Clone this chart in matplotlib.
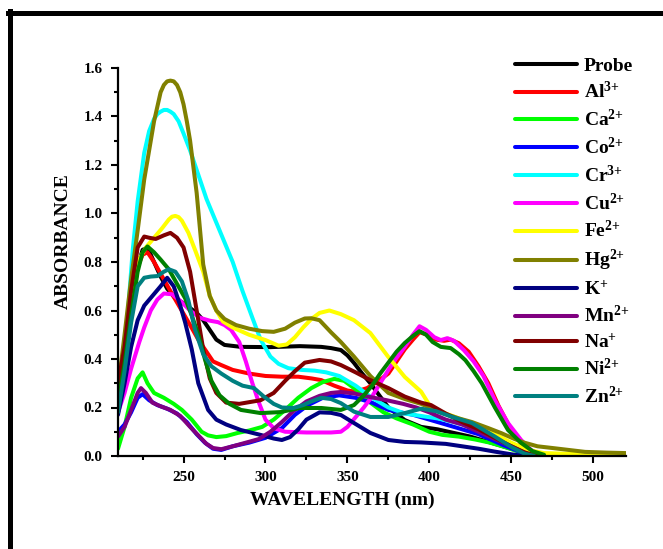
import matplotlib
matplotlib.use("Agg")
import matplotlib.pyplot as plt
from matplotlib.lines import Line2D
from matplotlib.ticker import MultipleLocator

plt.rcParams["font.family"] = "Liberation Serif"
plt.rcParams["font.weight"] = "bold"
plt.rcParams["mathtext.fontset"] = "custom"
plt.rcParams["mathtext.rm"] = "Liberation Serif:bold"
plt.rcParams["mathtext.bf"] = "Liberation Serif:bold"
plt.rcParams["mathtext.it"] = "Liberation Serif:bold"

# absorbance spectra, one (wavelength, absorbance) pair of lists per sample
probe_wl = [210, 214, 218, 222, 225, 228, 232, 236, 240, 245, 250, 258, 262, 266, 270, 275, 285, 303, 321, 334,
            340, 346, 350, 354, 359, 364, 370, 375, 385, 395, 405, 415, 425, 435, 445, 455, 462, 470]
probe_abs = [0.22, 0.38, 0.6, 0.78, 0.85, 0.86, 0.8, 0.74, 0.69, 0.65, 0.63, 0.59, 0.56, 0.52, 0.48, 0.458, 0.45,
             0.449, 0.453, 0.45, 0.445, 0.437, 0.415, 0.384, 0.34, 0.3, 0.245, 0.2, 0.148, 0.12, 0.11, 0.095, 0.08,
             0.06, 0.04, 0.02, 0.007, 0.0]

al_wl = [210, 214, 218, 222, 225, 228, 232, 237, 242, 248, 254, 259, 263, 268, 273, 280, 290, 300, 310, 320, 328,
         334, 342, 350, 355, 362, 368, 375, 380, 385, 390, 394, 399, 404, 409, 413, 418, 424, 430, 436, 442, 449,
         456, 463, 470]
al_abs = [0.25, 0.42, 0.62, 0.78, 0.83, 0.84, 0.8, 0.74, 0.68, 0.61, 0.54, 0.48, 0.44, 0.39, 0.375, 0.355, 0.34,
          0.33, 0.327, 0.327, 0.32, 0.313, 0.29, 0.27, 0.265, 0.28, 0.305, 0.34, 0.39, 0.44, 0.48, 0.51, 0.5, 0.48,
          0.475, 0.48, 0.465, 0.43, 0.37, 0.3, 0.21, 0.12, 0.05, 0.015, 0.0]

ca_wl = [210, 214, 218, 222, 225, 228, 232, 238, 244, 249, 255, 261, 265, 270, 276, 283, 290, 298, 305, 312, 320,
         328, 335, 342, 348, 356, 364, 372, 380, 390, 400, 408, 418, 428, 437, 447, 457, 465]
ca_abs = [0.03, 0.12, 0.24, 0.32, 0.345, 0.3, 0.26, 0.24, 0.215, 0.19, 0.15, 0.1, 0.085, 0.078, 0.082, 0.095, 0.105,
          0.12, 0.15, 0.19, 0.24, 0.28, 0.305, 0.318, 0.31, 0.27, 0.22, 0.18, 0.155, 0.13, 0.1, 0.087, 0.08, 0.068,
          0.055, 0.035, 0.012, 0.0]

co_wl = [210, 214, 218, 222, 225, 229, 234, 240, 246, 252, 258, 263, 268, 273, 280, 290, 300, 310, 318, 326, 335,
         345, 355, 365, 375, 390, 405, 415, 430, 445, 460]
co_abs = [0.1, 0.13, 0.18, 0.24, 0.255, 0.23, 0.21, 0.195, 0.175, 0.14, 0.09, 0.055, 0.03, 0.025, 0.04, 0.055,
          0.075, 0.115, 0.17, 0.21, 0.24, 0.25, 0.24, 0.22, 0.19, 0.17, 0.14, 0.12, 0.09, 0.045, 0.005]

cr_wl = [210, 215, 219, 222, 226, 229, 232, 234, 236, 238, 240, 242, 244, 247, 250, 254, 258, 264, 272, 280, 286,
         292, 297, 303, 308, 314, 322, 330, 337, 345, 355, 365, 375, 385, 395, 405, 415, 425, 435, 445, 455, 463,
         470]
cr_abs = [0.25, 0.5, 0.85, 1.05, 1.25, 1.34, 1.39, 1.41, 1.42, 1.427, 1.427, 1.42, 1.41, 1.38, 1.33, 1.26, 1.18,
          1.06, 0.93, 0.8, 0.68, 0.57, 0.48, 0.41, 0.38, 0.362, 0.355, 0.352, 0.345, 0.33, 0.29, 0.24, 0.2, 0.175,
          0.165, 0.155, 0.14, 0.12, 0.09, 0.06, 0.03, 0.01, 0.0]

cu_wl = [210, 214, 218, 223, 226, 230, 234, 238, 243, 248, 254, 260, 266, 271, 275, 279, 284, 288, 292, 296, 300,
         305, 312, 325, 340, 346, 350, 355, 360, 365, 370, 375, 380, 385, 390, 394, 398, 403, 407, 411, 415, 421,
         427, 433, 440, 448, 456, 462, 468]
cu_abs = [0.18, 0.26, 0.36, 0.47, 0.53, 0.6, 0.645, 0.67, 0.667, 0.64, 0.6, 0.57, 0.558, 0.552, 0.54, 0.52, 0.47,
          0.39, 0.3, 0.22, 0.15, 0.115, 0.1, 0.097, 0.097, 0.1, 0.12, 0.16, 0.2, 0.245, 0.3, 0.355, 0.405, 0.45,
          0.5, 0.535, 0.52, 0.49, 0.478, 0.486, 0.475, 0.437, 0.39, 0.33, 0.23, 0.136, 0.066, 0.025, 0.005]

fe_wl = [210, 214, 218, 222, 227, 232, 237, 241, 243, 245, 247, 249, 253, 257, 262, 266, 270, 274, 280, 290, 300,
         308, 313, 318, 323, 328, 333, 339, 346, 354, 364, 375, 385, 395, 401, 410, 420, 430, 440, 450, 460, 470,
         490, 520]
fe_abs = [0.26, 0.45, 0.65, 0.8, 0.86, 0.9, 0.94, 0.975, 0.987, 0.99, 0.985, 0.97, 0.92, 0.85, 0.76, 0.66, 0.6,
          0.555, 0.53, 0.5, 0.478, 0.455, 0.46, 0.49, 0.53, 0.565, 0.59, 0.6, 0.585, 0.56, 0.507, 0.408, 0.326,
          0.265, 0.2, 0.175, 0.15, 0.12, 0.09, 0.055, 0.025, 0.012, 0.008, 0.005]

hg_wl = [210, 214, 218, 222, 226, 230, 232, 234, 236, 238, 240, 242, 244, 246, 248, 250, 252, 254, 258, 262, 266,
         270, 275, 282, 290, 298, 305, 312, 318, 324, 328, 333, 340, 346, 354, 364, 375, 385, 395, 407, 418, 426,
         436, 444, 452, 458, 466, 475, 485, 495, 508, 520]
hg_abs = [0.28, 0.5, 0.73, 0.93, 1.14, 1.3, 1.38, 1.44, 1.5, 1.53, 1.545, 1.548, 1.545, 1.53, 1.5, 1.45, 1.38,
          1.3, 1.085, 0.79, 0.66, 0.6, 0.565, 0.54, 0.525, 0.515, 0.512, 0.525, 0.55, 0.567, 0.568, 0.56, 0.51,
          0.47, 0.41, 0.33, 0.26, 0.235, 0.215, 0.18, 0.155, 0.14, 0.115, 0.094, 0.07, 0.055, 0.04, 0.033, 0.025,
          0.017, 0.014, 0.012]

k_wl = [210, 214, 218, 222, 226, 231, 236, 240, 244, 248, 251, 255, 259, 265, 270, 276, 285, 297, 305, 310, 315,
        320, 325, 333, 340, 346, 354, 364, 375, 385, 395, 410, 420, 430, 440, 450, 458]
k_abs = [0.17, 0.3, 0.45, 0.56, 0.62, 0.66, 0.7, 0.735, 0.7, 0.62, 0.55, 0.44, 0.3, 0.19, 0.15, 0.13, 0.107, 0.087,
         0.072, 0.066, 0.078, 0.11, 0.15, 0.18, 0.178, 0.169, 0.136, 0.095, 0.066, 0.058, 0.056, 0.05, 0.04, 0.03,
         0.018, 0.007, 0.0]

mn_wl = [210, 214, 218, 222, 224, 227, 231, 236, 242, 248, 254, 259, 264, 268, 273, 280, 288, 296, 303, 310, 317,
         325, 333, 340, 346, 354, 364, 374, 384, 392, 400, 410, 420, 430, 440, 450, 460]
mn_abs = [0.08, 0.12, 0.19, 0.26, 0.28, 0.26, 0.22, 0.205, 0.19, 0.165, 0.12, 0.085, 0.05, 0.033, 0.028, 0.04,
          0.055, 0.07, 0.1, 0.14, 0.185, 0.225, 0.248, 0.26, 0.264, 0.258, 0.243, 0.23, 0.215, 0.2, 0.18, 0.15, 0.13,
          0.1, 0.07, 0.04, 0.008]

na_wl = [210, 214, 218, 222, 226, 229, 233, 238, 242, 246, 250, 254, 258, 262, 266, 270, 276, 284, 297, 305, 312,
         318, 324, 333, 340, 346, 355, 364, 375, 385, 395, 401, 410, 420, 430, 440, 450, 458, 466]
na_abs = [0.3, 0.45, 0.68, 0.86, 0.905, 0.9, 0.895, 0.91, 0.92, 0.9, 0.86, 0.76, 0.6, 0.44, 0.32, 0.26, 0.22, 0.215,
          0.23, 0.26, 0.31, 0.35, 0.385, 0.396, 0.39, 0.375, 0.345, 0.313, 0.28, 0.245, 0.22, 0.21, 0.175, 0.14,
          0.11, 0.075, 0.04, 0.015, 0.0]

ni_wl = [210, 214, 218, 222, 225, 228, 232, 236, 241, 246, 251, 255, 259, 263, 267, 272, 278, 285, 297, 309, 321,
         334, 346, 354, 360, 365, 370, 375, 380, 385, 390, 394, 398, 402, 407, 413, 418, 422, 427, 432, 440, 448,
         456, 463, 470]
ni_abs = [0.22, 0.38, 0.58, 0.76, 0.84, 0.864, 0.84, 0.81, 0.77, 0.71, 0.65, 0.58, 0.5, 0.4, 0.31, 0.25, 0.215,
          0.19, 0.177, 0.181, 0.198, 0.198, 0.19, 0.21, 0.25, 0.29, 0.34, 0.385, 0.43, 0.466, 0.495, 0.515, 0.5,
          0.47, 0.45, 0.445, 0.42, 0.395, 0.35, 0.3, 0.2, 0.107, 0.054, 0.02, 0.005]

zn_wl = [210, 214, 218, 222, 226, 230, 234, 238, 241, 245, 249, 253, 257, 262, 267, 273, 280, 286, 293, 299, 305,
         310, 317, 323, 328, 334, 340, 346, 354, 364, 375, 385, 395, 404, 414, 426, 440, 450, 458, 464]
zn_abs = [0.18, 0.35, 0.55, 0.7, 0.735, 0.74, 0.742, 0.76, 0.77, 0.76, 0.72, 0.64, 0.52, 0.42, 0.37, 0.34, 0.31,
          0.29, 0.28, 0.245, 0.215, 0.2, 0.198, 0.21, 0.225, 0.24, 0.235, 0.218, 0.183, 0.161, 0.161, 0.177, 0.195,
          0.185, 0.161, 0.136, 0.08, 0.037, 0.01, 0.0]

labels = ["Probe", r"Al$^{3{+}}$", r"Ca$^{2{+}}$", r"Co$^{2{+}}$", r"Cr$^{3{+}}$", r"Cu$^{2{+}}$", r"Fe$^{2{+}}$",
          r"Hg$^{2{+}}$", r"K$^{+}$", r"Mn$^{2{+}}$", r"Na$^{+}$", r"Ni$^{2{+}}$", r"Zn$^{2{+}}$"]
colors = ["#000000", "#FF0000", "#00FF00", "#0000FF", "#00FFFF", "#FF00FF", "#FFFF00",
          "#808000", "#000080", "#800080", "#800000", "#008000", "#008080"]
series = [(probe_wl, probe_abs), (al_wl, al_abs), (ca_wl, ca_abs), (co_wl, co_abs), (cr_wl, cr_abs),
          (cu_wl, cu_abs), (fe_wl, fe_abs), (hg_wl, hg_abs), (k_wl, k_abs), (mn_wl, mn_abs),
          (na_wl, na_abs), (ni_wl, ni_abs), (zn_wl, zn_abs)]

W, H = 663, 549
fig = plt.figure(figsize=(W / 100, H / 100), dpi=100)
ax = fig.add_axes([118 / W, 1 - 456 / H, (626 - 118) / W, (456 - 68) / H])

for (wl, ab), lab, c in zip(series, labels, colors):
    ax.plot(wl, ab, color=c, lw=2.9, label=lab, solid_joinstyle="round", solid_capstyle="round")

ax.set_xlim(210, 520)
ax.set_ylim(0, 1.6)
ax.xaxis.set_major_locator(MultipleLocator(50))
ax.xaxis.set_minor_locator(MultipleLocator(25))
ax.yaxis.set_major_locator(MultipleLocator(0.2))
ax.yaxis.set_minor_locator(MultipleLocator(0.1))
ax.yaxis.set_major_formatter(plt.FormatStrFormatter("%.1f"))
ax.set_xticks([250, 300, 350, 400, 450, 500])

for s in ["top", "right"]:
    ax.spines[s].set_visible(False)
for s in ["left", "bottom"]:
    ax.spines[s].set_linewidth(1.6)

ax.tick_params(which="major", direction="out", length=5, width=1.5, labelsize=11, pad=6)
ax.tick_params(which="minor", direction="out", length=3, width=1.5)

ax.set_xlabel("WAVELENGTH (nm)", fontsize=14, fontweight="bold")
ax.set_ylabel("ABSORBANCE", fontsize=14, fontweight="bold")
ax.xaxis.set_label_coords((342 - 118) / 508, (456 - 500) / 388)
ax.xaxis.label.set_va("center")
ax.yaxis.set_label_coords((63 - 118) / 508, (456 - 241) / 388)
ax.yaxis.label.set_va("center")

ax.legend(loc="upper left", bbox_to_anchor=(515 / W, 1 - 57 / H), bbox_transform=fig.transFigure,
          frameon=False, fontsize=14, handlelength=3.2, handletextpad=0.35, labelspacing=0.34,
          borderpad=0, borderaxespad=0)

# black frame (left and top edges visible in the original export)
fig.add_artist(Line2D([9.5 / W, 9.5 / W], [0, 1 - 10.5 / H], color="black", lw=3.6, transform=fig.transFigure))
fig.add_artist(Line2D([7.5 / W, 1], [1 - 13 / H, 1 - 13 / H], color="black", lw=3.6, transform=fig.transFigure))

fig.savefig("out.png", dpi=100)
